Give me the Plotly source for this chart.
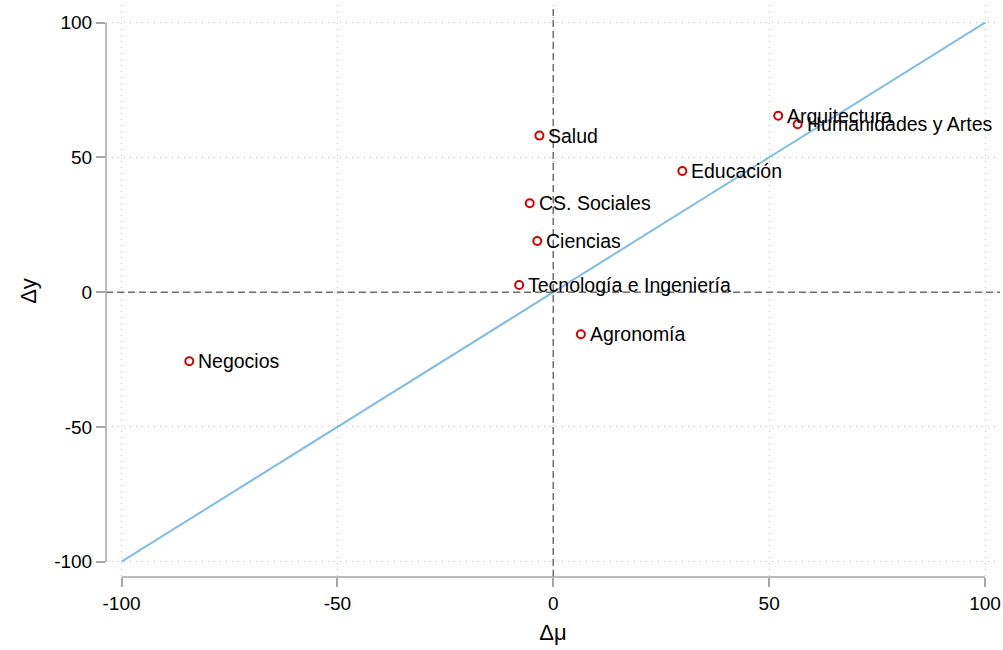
import plotly.graph_objects as go

# Field-level changes: Δμ (x) vs Δy (y)
areas = ["Negocios", "Tecnología e Ingeniería", "Ciencias", "CS. Sociales", "Salud",
         "Agronomía", "Educación", "Arquitectura", "Humanidades y Artes"]
delta_mu = [-84.3, -7.9, -3.7, -5.45, -3.2, 6.4, 29.9, 52.1, 56.6]
delta_y = [-25.6, 2.7, 19.0, 33.0, 58.1, -15.6, 45.0, 65.5, 62.3]

# 45-degree reference line
diag_x = [-100, 100]
diag_y = [-100, 100]

tick_vals = [-100, -50, 0, 50, 100]
tick_text = ["-100", "-50", "0", "50", "100"]

# plot region is a bit wider than the tick range
x_range = [-103.59, 103.47]
y_range = [-105.68, 106.57]

FONT = "Liberation Sans, Arial, Helvetica, sans-serif"
AXIS_GRAY = "#a6a6a6"

fig = go.Figure()

fig.add_trace(go.Scatter(
    x=diag_x, y=diag_y, mode="lines",
    line=dict(color="#80bde6", width=2),
    hoverinfo="skip", showlegend=False,
))

fig.add_trace(go.Scatter(
    x=delta_mu, y=delta_y, mode="markers",
    marker=dict(symbol="circle-open", size=8, color="#d40000",
                line=dict(width=2, color="#d40000")),
    text=areas, hoverinfo="text+x+y",
    showlegend=False,
))

# point labels, to the right of each marker
annotations = [
    dict(x=x, y=y, text=name, showarrow=False, xref="x", yref="y",
         xanchor="left", yanchor="middle", xshift=7, yshift=0,
         font=dict(family=FONT, size=19.5, color="#000000"))
    for x, y, name in zip(delta_mu, delta_y, areas)
]


def frac(v, r):
    return (v - r[0]) / (r[1] - r[0])


shapes = [
    # dashed reference lines at zero
    dict(type="line", xref="x", x0=0, x1=0, yref="y domain", y0=0, y1=1,
         line=dict(color="#6e6e6e", width=1.5, dash="7px,4px"), layer="above"),
    dict(type="line", yref="y", y0=0, y1=0, xref="x domain", x0=0, x1=1,
         line=dict(color="#6e6e6e", width=1.5, dash="7px,4px"), layer="above"),
    # axis lines spanning only the tick range
    dict(type="line", xref="x domain", x0=0, x1=0, yref="y domain",
         y0=frac(tick_vals[0], y_range), y1=frac(tick_vals[-1], y_range),
         line=dict(color=AXIS_GRAY, width=1.5)),
    dict(type="line", yref="y domain", y0=0, y1=0, xref="x domain",
         x0=frac(tick_vals[0], x_range), x1=frac(tick_vals[-1], x_range),
         line=dict(color=AXIS_GRAY, width=1.5)),
]

axis_common = dict(
    tickvals=tick_vals, ticktext=tick_text,
    ticks="outside", ticklen=9, tickwidth=1.5, tickcolor=AXIS_GRAY,
    tickfont=dict(family=FONT, size=19, color="#000000"),
    showgrid=True, gridcolor="#c4c4c4", gridwidth=1, griddash="1px,5px",
    zeroline=False, showline=False, automargin=False,
)

fig.update_layout(
    width=1003, height=650,
    margin=dict(l=106, r=3, t=5, b=73),
    paper_bgcolor="white", plot_bgcolor="white",
    shapes=shapes, annotations=annotations,
    xaxis=dict(range=x_range,
               title=dict(text="Δμ", font=dict(family=FONT, size=22, color="#000000"),
                          standoff=11),
               **axis_common),
    yaxis=dict(range=y_range,
               title=dict(text="Δy", font=dict(family=FONT, size=22, color="#000000"),
                          standoff=11),
               **axis_common),
)

fig.write_html("out.html")
